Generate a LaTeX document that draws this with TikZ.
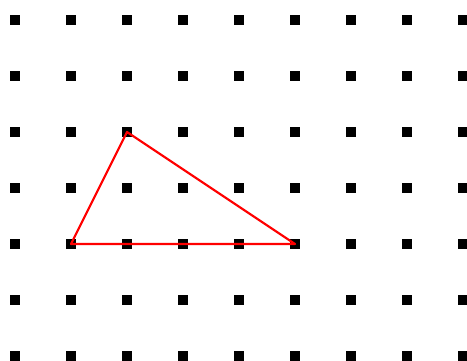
\documentclass[tikz,border=0pt]{standalone}
\usepackage{tikz}

\begin{document}
\begin{tikzpicture}[
    x=1cm, y=1cm,
    dot/.style={fill=black, inner sep=0pt, minimum size=0.18cm},
    tri/.style={draw=red, line width=1.1pt, line join=round}
]
% Page frame
\useasboundingbox (-0.268, 0.357) rectangle (8.071, -6.089);

% Grid of dots
\foreach \c in {0,...,8} {
    \foreach \r in {0,...,6} {
        \node[dot] (d-\c-\r) at (\c, -\r) {};
    }
}

% Triangle
\draw[tri] (d-1-4.center) -- (d-2-2.center) -- (d-5-4.center) -- cycle;
\end{tikzpicture}
\end{document}
